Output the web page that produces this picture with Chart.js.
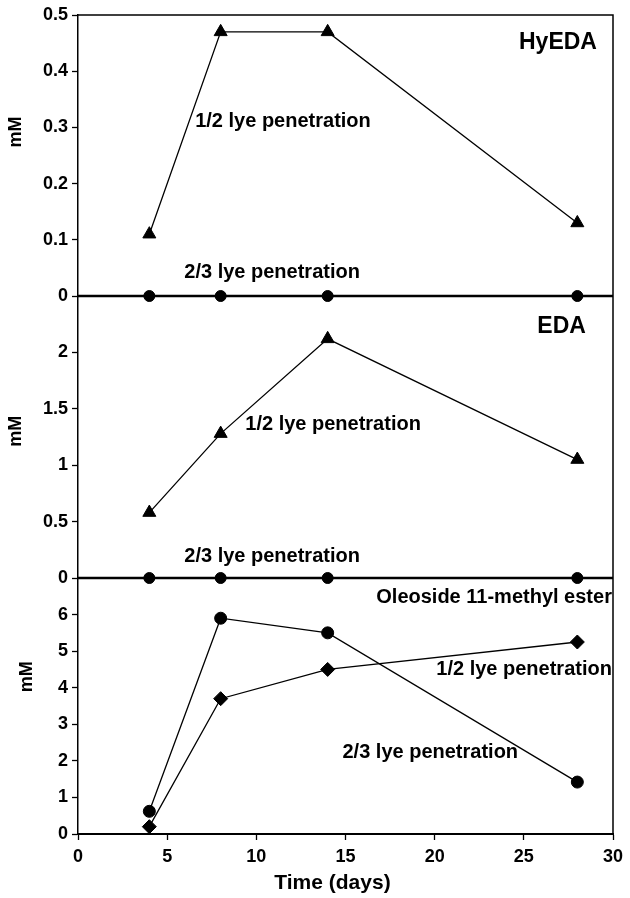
<!DOCTYPE html>
<html>
<head>
<meta charset="utf-8">
<script src="https://cdn.jsdelivr.net/npm/chart.js@4.4.1/dist/chart.umd.min.js"></script>
<style>
  html, body { margin: 0; padding: 0; background: #fff; }
  #wrap { width: 630px; height: 898px; }
</style>
</head>
<body>
<div id="wrap"><canvas id="chart" width="630" height="898"></canvas></div>
<script>
// --- Data ---
const days = [4, 8, 14, 28];

const hyedaHalf = [0.11, 0.47, 0.47, 0.13];
const hyedaTwoThirds = [0, 0, 0, 0];

const edaHalf = [0.58, 1.28, 2.12, 1.05];
const edaTwoThirds = [0, 0, 0, 0];

const oleoHalf = [0.2, 3.7, 4.5, 5.25];
const oleoTwoThirds = [0.62, 5.9, 5.5, 1.42];

// Tick labels
const xTicks = [0, 5, 10, 15, 20, 25, 30];
const hyedaTicks = [0, 0.1, 0.2, 0.3, 0.4, 0.5];
const edaTicks = [0, 0.5, 1, 1.5, 2];
const oleoTicks = [0, 1, 2, 3, 4, 5, 6];

// Text placed inside the panels (positions in data units of each panel)
const notes = [
    { text: 'HyEDA', axis: 'yHy', x: 29.1, y: 0.45, align: 'right', size: 23 },
    { text: '1/2 lye penetration', axis: 'yHy', x: 6.57, y: 0.31, align: 'left', size: 20 },
    { text: '2/3 lye penetration', axis: 'yHy', x: 5.96, y: 0.041, align: 'left', size: 20 },
    { text: 'EDA', axis: 'yEda', x: 28.48, y: 2.23, align: 'right', size: 23 },
    { text: '1/2 lye penetration', axis: 'yEda', x: 9.38, y: 1.36, align: 'left', size: 20 },
    { text: '2/3 lye penetration', axis: 'yEda', x: 5.96, y: 0.187, align: 'left', size: 20 },
    { text: 'Oleoside 11-methyl ester', axis: 'yOleo', x: 29.94, y: 6.47, align: 'right', size: 20 },
    { text: '1/2 lye penetration', axis: 'yOleo', x: 29.94, y: 4.49, align: 'right', size: 20 },
    { text: '2/3 lye penetration', axis: 'yOleo', x: 14.83, y: 2.22, align: 'left', size: 20 }
];

// "mM" titles: pixel offset from the left edge, centred on a value of each panel
const yTitles = [
    { axis: 'yHy', left: 16, y: 0.292 },
    { axis: 'yEda', left: 16, y: 1.3 },
    { axis: 'yOleo', left: 27, y: 4.3 }
];

const FONT = '"Liberation Sans", Arial, Helvetica, sans-serif';
Chart.defaults.font.family = FONT;
Chart.defaults.color = '#000';

function series(values, axis, style, radius) {
    return {
        data: days.map((d, i) => ({ x: d, y: values[i] })),
        yAxisID: axis,
        borderColor: '#000',
        borderWidth: 1.3,
        pointStyle: style,
        pointRadius: radius,
        pointBackgroundColor: '#000',
        pointBorderColor: '#000',
        pointBorderWidth: 1,
        tension: 0,
        fill: false,
        clip: false
    };
}

function yScale(max, ticks, weight) {
    return {
        type: 'linear',
        position: 'left',
        stack: 'panels',
        stackWeight: weight,
        min: 0,
        max: max,
        afterBuildTicks: s => { s.ticks = ticks.map(v => ({ value: v })); },
        afterFit: s => { s.width = 78; },
        ticks: {
            color: '#000',
            padding: 4,
            autoSkip: false,
            font: { size: 18, weight: 'bold' },
            callback: v => String(v)
        },
        grid: { drawOnChartArea: false, tickLength: 6, color: '#000', tickWidth: 1.3 },
        border: { display: true, color: '#000', width: 1.5 }
    };
}

const panelPlugin = {
    id: 'panelFrame',
    beforeDatasetsDraw(chart) {
        const { ctx, chartArea: a, scales } = chart;
        ctx.save();
        ctx.strokeStyle = '#000';
        // outer frame: top and right edges
        ctx.lineWidth = 1.5;
        ctx.beginPath();
        ctx.moveTo(a.left, a.top);
        ctx.lineTo(a.right, a.top);
        ctx.lineTo(a.right, a.bottom);
        ctx.stroke();
        // zero lines that split the panels
        ctx.lineWidth = 2.4;
        ['yHy', 'yEda'].forEach(id => {
            const y = scales[id].getPixelForValue(0);
            ctx.beginPath();
            ctx.moveTo(a.left, y);
            ctx.lineTo(a.right, y);
            ctx.stroke();
        });
        ctx.restore();
    },
    afterDraw(chart) {
        const { ctx, scales } = chart;
        ctx.save();
        ctx.fillStyle = '#000';
        ctx.textBaseline = 'middle';

        notes.forEach(n => {
            ctx.font = 'bold ' + n.size + 'px ' + FONT;
            ctx.textAlign = n.align;
            ctx.fillText(n.text, scales.x.getPixelForValue(n.x), scales[n.axis].getPixelForValue(n.y));
        });

        ctx.font = 'bold 18px ' + FONT;
        ctx.textAlign = 'center';
        yTitles.forEach(t => {
            ctx.save();
            ctx.translate(t.left, scales[t.axis].getPixelForValue(t.y));
            ctx.rotate(-Math.PI / 2);
            ctx.fillText('mM', 0, 0);
            ctx.restore();
        });

        ctx.font = 'bold 21px ' + FONT;
        ctx.fillText('Time (days)', scales.x.getPixelForValue(14.27), scales.x.bottom - 15);
        ctx.restore();
    }
};

function init() {
    const ctx = document.getElementById('chart').getContext('2d');
    new Chart(ctx, {
        type: 'line',
        data: {
            datasets: [
                series(hyedaHalf, 'yHy', 'triangle', 7.5),
                series(hyedaTwoThirds, 'yHy', 'circle', 5.5),
                series(edaHalf, 'yEda', 'triangle', 7.5),
                series(edaTwoThirds, 'yEda', 'circle', 5.5),
                series(oleoHalf, 'yOleo', 'rectRot', 7),
                series(oleoTwoThirds, 'yOleo', 'circle', 6)
            ]
        },
        options: {
            responsive: false,
            animation: false,
            devicePixelRatio: 1,
            layout: { padding: { top: 15, right: 17, bottom: 0, left: 0 } },
            plugins: {
                legend: { display: false },
                tooltip: { enabled: false }
            },
            scales: {
                x: {
                    type: 'linear',
                    position: 'bottom',
                    min: 0,
                    max: 30,
                    afterBuildTicks: s => { s.ticks = xTicks.map(v => ({ value: v })); },
                    afterFit: s => { s.height = 64; },
                    ticks: {
                        color: '#000',
                        padding: 6,
                        maxRotation: 0,
                        autoSkip: false,
                        font: { size: 18, weight: 'bold' }
                    },
                    grid: { drawOnChartArea: false, tickLength: 6, color: '#000', tickWidth: 1.3 },
                    border: { display: true, color: '#000', width: 2 }
                },
                // bottom panel first: stacked left axes are placed in reverse order
                yOleo: yScale(7, oleoTicks, 256),
                yEda: yScale(2.5, edaTicks, 282),
                yHy: yScale(0.5, hyedaTicks, 281)
            }
        },
        plugins: [panelPlugin]
    });
}

document.addEventListener('DOMContentLoaded', init);
</script>
</body>
</html>
